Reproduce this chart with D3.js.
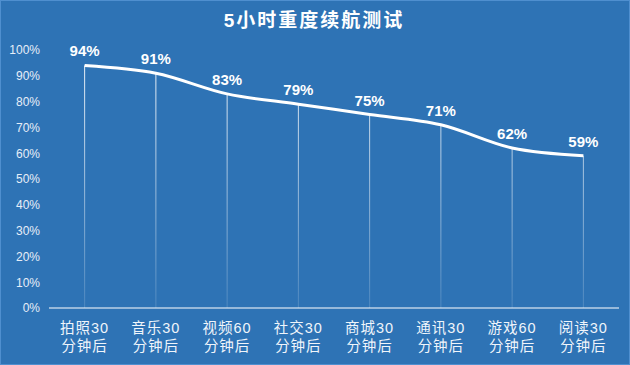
<!DOCTYPE html>
<html><head><meta charset="utf-8">
<script src="https://cdn.jsdelivr.net/npm/d3@7/dist/d3.min.js"></script>
<style>html,body{margin:0;padding:0;background:#2e73b5;}svg{display:block;}</style>
</head><body>
<script>
const categories = ["拍照30|分钟后","音乐30|分钟后","视频60|分钟后","社交30|分钟后","商城30|分钟后","通讯30|分钟后","游戏60|分钟后","阅读30|分钟后"];
const values = [94, 91, 83, 79, 75, 71, 62, 59];
const yTicks = [0,10,20,30,40,50,60,70,80,90,100];
const title = "5小时重度续航测试";

const W = 630, H = 365;
const font = "'Liberation Sans','Noto Sans CJK SC',sans-serif";
const svg = d3.select("body").append("svg").attr("width", W).attr("height", H);
svg.append("rect").attr("width", W).attr("height", H).attr("fill", "#2e73b5");
svg.append("rect").attr("x",0.5).attr("y",0.5).attr("width",W-1).attr("height",H-1)
  .attr("fill","none").attr("stroke","#4f8fcf").attr("stroke-width",1);

const x = d3.scaleBand().domain(categories).range([49, 619]).padding(0);
const y = d3.scaleLinear().domain([0, 100]).range([308, 50]);
const cx = d => x(d) + x.bandwidth()/2;

svg.append("text").attr("x", 314).attr("y", 27).attr("text-anchor","middle")
  .attr("fill","#fff").attr("font-family",font).attr("font-weight","bold")
  .attr("font-size",19).attr("letter-spacing",2).text(title);

// y axis labels
const ya = svg.append("g").attr("transform","translate(40,0)")
  .call(d3.axisLeft(y).tickValues(yTicks).tickFormat(d => d + "%").tickSize(0).tickPadding(0));
ya.select(".domain").remove();
ya.selectAll("text").attr("fill","#e6eef8").attr("font-family",font).attr("font-size",12);

// drop lines with gradient
const defs = svg.append("defs");
const grad = defs.append("linearGradient").attr("id","dl").attr("gradientUnits","userSpaceOnUse")
  .attr("x1",0).attr("x2",0).attr("y1",y(100)).attr("y2",y(0));
grad.append("stop").attr("offset","0%").attr("stop-color","#fff").attr("stop-opacity",0.95);
grad.append("stop").attr("offset","100%").attr("stop-color","#fff").attr("stop-opacity",0.15);

svg.append("g").selectAll("line").data(categories).join("line")
  .attr("x1", d => cx(d)).attr("x2", d => cx(d))
  .attr("y1", (d,i) => y(values[i])).attr("y2", y(0))
  .attr("stroke","url(#dl)").attr("stroke-width",1);

// baseline
svg.append("line").attr("x1",49).attr("x2",619).attr("y1",y(0)).attr("y2",y(0))
  .attr("stroke","#fff").attr("stroke-width",1.2);

// line
const line = d3.line().x((d,i) => cx(categories[i])).y(d => y(d)).curve(d3.curveCatmullRom.alpha(0.5));
svg.append("path").datum(values).attr("d", line).attr("fill","none")
  .attr("stroke","#fff").attr("stroke-width",3).attr("stroke-linejoin","round");

// value labels
svg.append("g").selectAll("text").data(values).join("text")
  .attr("x",(d,i) => cx(categories[i])).attr("y", d => y(d) - 9)
  .attr("text-anchor","middle").attr("fill","#fff").attr("font-family",font)
  .attr("font-weight","bold").attr("font-size",15).text(d => d + "%");

// x labels
const xl = svg.append("g").selectAll("text").data(categories).join("text")
  .attr("x", d => cx(d)).attr("y", 333).attr("text-anchor","middle")
  .attr("fill","#f0f5fb").attr("font-family",font).attr("font-size",14.5).attr("letter-spacing",1);
xl.each(function(d){
  const parts = d.split("|");
  const t = d3.select(this);
  t.append("tspan").attr("x", cx(d)).attr("dy",0).text(parts[0]);
  t.append("tspan").attr("x", cx(d)).attr("dy",18).text(parts[1]);
});
</script>
</body></html>
